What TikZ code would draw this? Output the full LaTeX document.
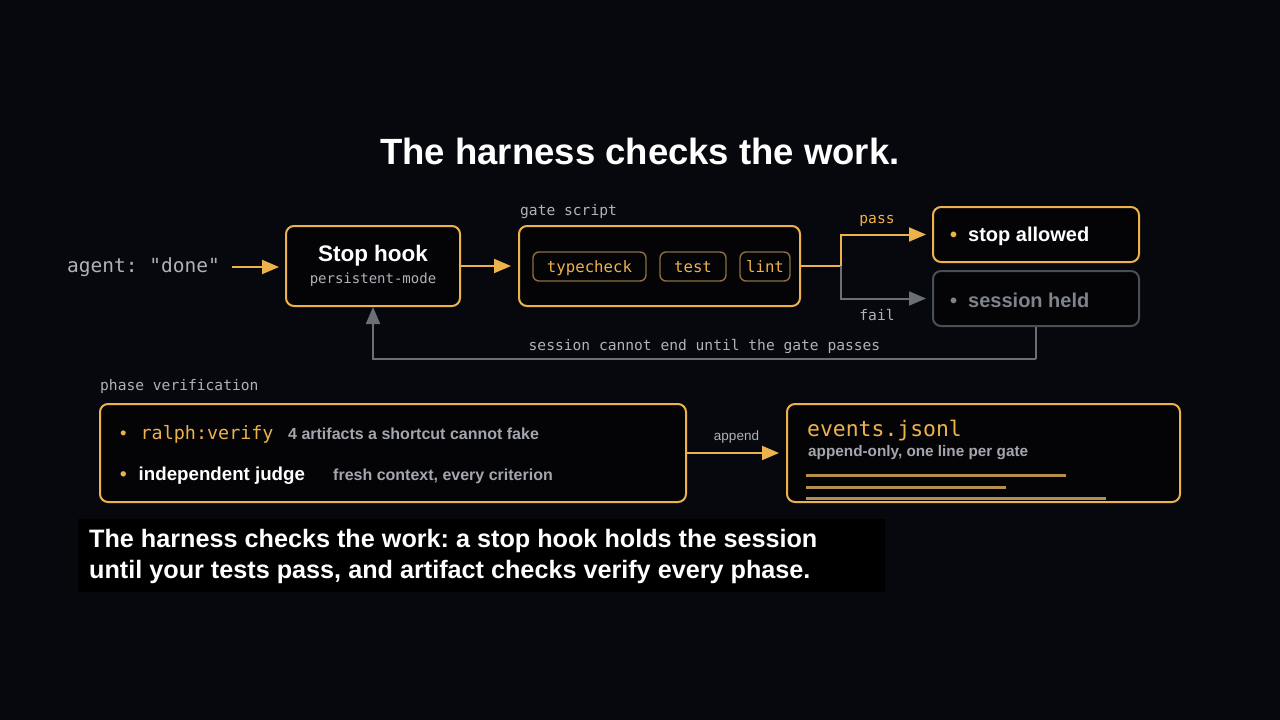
\documentclass[tikz,border=0pt]{standalone}
\usepackage{fontspec}
\setmainfont{Liberation Sans}
\setmonofont{DejaVu Sans Mono}
\usetikzlibrary{positioning,arrows.meta,calc}
\definecolor{bgC}{HTML}{07080D}
\definecolor{boxF}{HTML}{040406}
\definecolor{capF}{HTML}{000000}
\definecolor{hookB}{HTML}{EDB24C}
\definecolor{chipB}{HTML}{8C6E3F}
\definecolor{logB}{HTML}{B48E4F}
\definecolor{txtG}{HTML}{AEB2BA}
\definecolor{descG}{HTML}{A3A6AD}
\definecolor{failB}{HTML}{6A6E77}
\definecolor{heldB}{HTML}{4A4E57}
\definecolor{heldT}{HTML}{7F838B}
\newcommand\monoS{\ttfamily\fontsize{14.6}{17}\selectfont}
\newcommand\monoM{\ttfamily\fontsize{15.7}{18}\selectfont}
\frenchspacing
\tikzset{
 box/.style={draw=hookB, line width=2pt, rounded corners=8pt, fill=boxF, inner sep=0pt},
 chip/.style={draw=chipB, line width=1.4pt, rounded corners=6pt, fill=boxF, text=hookB,
              font=\monoM, minimum height=29pt, inner sep=0pt, text height=13pt, text depth=2pt},
 arr/.style={-{Triangle[length=17pt,width=14pt]}, line width=2pt, draw=hookB},
 garr/.style={-{Triangle[length=17pt,width=14pt]}, line width=2pt, draw=failB},
 lbl/.style={font=\monoS, text=txtG, inner sep=0pt, text height=10pt, text depth=3pt},
 txt/.style={inner sep=0pt, anchor=west},
 logline/.style={line width=3pt, draw=logB},
}

\begin{document}
\begin{tikzpicture}[x=1pt, y=-1pt]
\fill[bgC] (0,0) rectangle (1280,720);
% title
\node[text=white, font=\bfseries\fontsize{36.5}{42}\selectfont, inner sep=0pt] (title) at (640,151)
 {The harness checks the work.};
% top row
\node[txt, font=\ttfamily\fontsize{19.5}{22}\selectfont, text=txtG, text height=14pt, text depth=4pt] (agent) at (67,267) {agent: "done"};
\node[box, minimum width=174pt, minimum height=80pt, align=center] (hook) at (373,266)
 {\textcolor{white}{\bfseries\fontsize{22.5}{26}\selectfont Stop hook}\\[6pt]
  \textcolor{txtG}{\ttfamily\fontsize{14}{16}\selectfont persistent-mode}};
\node[box, minimum width=281pt, minimum height=80pt] (gate) at (659.5,266) {};
\node[lbl, anchor=west] (gatelbl) at (520,212) {gate script};
\node[chip, minimum width=113pt] (tc) at (589.5,266.5) {typecheck};
\node[chip, minimum width=66pt] (tst) at (693,266.5) {test};
\node[chip, minimum width=50pt] (lnt) at (765,266.5) {lint};
% outcomes
\node[box, minimum width=206pt, minimum height=55pt] (ok) at (1036,234.5) {};
\node[txt, font=\bfseries\fontsize{20}{22}\selectfont, text=white] (oktxt) at (950,236)
 {\textcolor{hookB}{•}\hspace{11pt}stop allowed};
\node[box, draw=heldB, minimum width=206pt, minimum height=55pt] (held) at (1036,298.5) {};
\node[txt, font=\bfseries\fontsize{20}{22}\selectfont, text=heldT] (heldtxt) at (950,300)
 {•\hspace{11pt}session held};
\node[lbl, text=hookB] (passlbl) at (877,220) {pass};
\node[lbl] (faillbl) at (877,317) {fail};
% phase verification
\node[lbl, anchor=west] (phaselbl) at (100,387) {phase verification};
\node[box, minimum width=586pt, minimum height=98pt] (phase) at (393,453) {};
\node[txt, font=\ttfamily\fontsize{18.4}{21}\selectfont, text=hookB] (verify) at (120,434)
 {\textrm{•}\hspace{14pt}ralph:verify};
\node[txt, font=\bfseries\fontsize{16}{18}\selectfont, text=descG] (verifyd) at (288,434)
 {4 artifacts a shortcut cannot fake};
\node[txt, font=\bfseries\fontsize{18.7}{21}\selectfont, text=white] (judge) at (120,476)
 {\textcolor{hookB}{•}\hspace{12pt}independent judge};
\node[txt, font=\bfseries\fontsize{16}{18}\selectfont, text=descG] (judged) at (333,476)
 {fresh context, every criterion};
% event log
\node[box, minimum width=393pt, minimum height=98pt] (events) at (983.5,453) {};
\node[txt, font=\ttfamily\fontsize{21.4}{24}\selectfont, text=hookB] (evname) at (807,431) {events.jsonl};
\node[txt, font=\bfseries\fontsize{15.3}{17}\selectfont, text=descG] (evdesc) at (808,453)
 {append-only, one line per gate};
\draw[logline] ($(events.south west)+(20,-28)$) -- ++(260,0);
\draw[logline] ($(events.south west)+(20,-16)$) -- ++(200,0);
\draw[logline] ($(events.south west)+(20,-5)$) -- ++(300,0);
% caption
\node[fill=capF, minimum width=807pt, minimum height=73pt, inner sep=0pt] (capbox) at (481.5,555) {};
\node[txt, font=\bfseries\fontsize{25.2}{31}\selectfont, text=white, align=left] (captxt) at (89,556)
 {The harness checks the work: a stop hook holds the session\\
  until your tests pass, and artifact checks verify every phase.};
% arrows
\coordinate (br) at (841,266);
\coordinate (fb) at (1036,359);
\draw[arr, shorten <=12pt, shorten >=6pt] (agent.east) -- (agent.east -| hook.west);
\draw[arr, shorten >=7pt] (hook.east) -- (gate.west);
\draw[line width=2pt, draw=hookB] (gate.east) -- (br);
\draw[arr, shorten >=6pt] (br) |- (ok.west);
\draw[garr, shorten >=6pt] (br) |- (held.west);
\draw[line width=2pt, draw=failB] (held.south) -- (fb);
\draw[garr] (fb) -| node[pos=0.25, lbl, above=5pt] (fbtxt) {session cannot end until the gate passes} (hook.south);
\draw[arr, shorten >=7pt] (phase.east) -- node[above=9pt, inner sep=0pt, text=txtG, font=\fontsize{13.5}{16}\selectfont] (applbl) {append} (events.west);
\end{tikzpicture}
\end{document}
